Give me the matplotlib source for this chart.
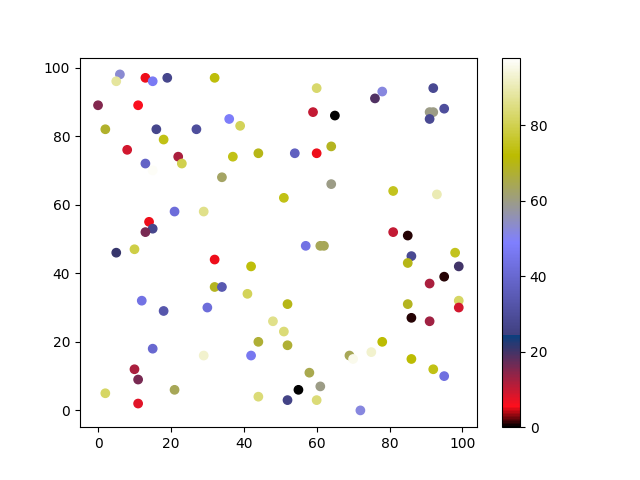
import numpy as np
import matplotlib
matplotlib.use("Agg")
import matplotlib.pyplot as plt

# scatter data (x, y, colour value)
x = [6, 5, 13, 15, 19, 32, 0, 11, 36, 39,
     2, 16, 27, 18, 8, 22, 23, 37, 44, 13,
     15, 34, 8, 21, 29, 14, 15, 13, 60, 78,
     76, 92, 59, 65, 91, 92, 95, 91, 54, 60,
     64, 64, 51, 81, 93, 81, 85, 57, 61, 62,
     5, 10, 32, 42, 32, 34, 41, 12, 18, 30,
     48, 15, 29, 42, 44, 10, 11, 21, 2, 11,
     44, 86, 85, 98, 99, 91, 95, 52, 85, 99,
     99, 86, 91, 51, 52, 78, 75, 69, 70, 86,
     92, 95, 58, 61, 55, 52, 60, 72]
y = [98, 96, 97, 96, 97, 97, 89, 89, 85, 83,
     82, 82, 82, 79, 76, 74, 72, 74, 75, 72,
     70, 68, 63, 58, 58, 55, 53, 52, 94, 93,
     91, 94, 87, 86, 87, 87, 88, 85, 75, 75,
     77, 66, 62, 64, 63, 52, 51, 48, 48, 48,
     46, 47, 44, 42, 36, 36, 34, 32, 29, 30,
     26, 18, 16, 16, 20, 12, 9, 6, 5, 2,
     4, 45, 43, 46, 42, 37, 39, 31, 31, 32,
     30, 27, 26, 23, 19, 20, 17, 16, 15, 15,
     12, 10, 11, 7, 6, 3, 3, 0]
c = [53, 88, 5, 47, 27, 73, 15, 6, 48, 81,
     68, 27, 30, 74, 9, 12, 80, 74, 70, 38,
     97, 63, 98, 42, 86, 5, 27, 16, 83, 52,
     19, 28, 10, 0, 60, 60, 30, 28, 37, 5,
     69, 60, 74, 75, 90, 10, 1, 44, 64, 64,
     21, 79, 5, 73, 69, 34, 81, 44, 33, 42,
     86, 40, 93, 46, 67, 12, 16, 64, 82, 8,
     84, 28, 70, 75, 20, 12, 1, 70, 69, 82,
     9, 1, 13, 84, 67, 72, 93, 64, 96, 72,
     74, 43, 65, 60, 0, 26, 84, 52]

fig, ax = plt.subplots(figsize=(6.4, 4.8))
sc = ax.scatter(x, y, c=c, cmap="gist_stern")
fig.colorbar(sc, ax=ax)
fig.savefig("out.png")
